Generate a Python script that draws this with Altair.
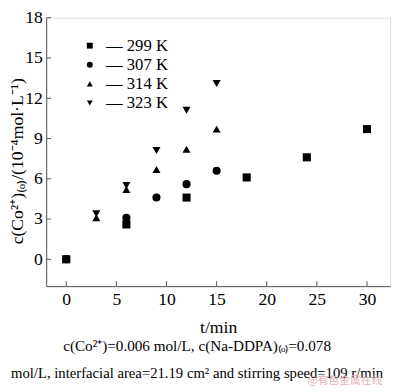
import altair as alt
import pandas as pd

series_names = ["299 K", "307 K", "314 K", "323 K"]
t_299 = [0, 6, 12, 18, 24, 30]
c_299 = [0, 2.6, 4.6, 6.1, 7.6, 9.7]
t_307 = [0, 6, 9, 12, 15]
c_307 = [0, 3.1, 4.6, 5.6, 6.6]
t_314 = [0, 3, 6, 9, 12, 15]
c_314 = [0, 3.1, 5.2, 6.7, 8.2, 9.7]
t_323 = [0, 3, 6, 9, 12, 15]
c_323 = [0, 3.4, 5.5, 8.1, 11.1, 13.1]
x_ticks = [0, 5, 10, 15, 20, 25, 30]
y_ticks = [0, 3, 6, 9, 12, 15, 18]

rows = []
for name, ts, cs in zip(series_names, [t_299, t_307, t_314, t_323], [c_299, c_307, c_314, c_323]):
    for t, c in zip(ts, cs):
        rows.append({"t": t, "c": c, "series": name})
df = pd.DataFrame(rows)

FONT = "'Times New Roman', 'Liberation Serif', serif"
W, H = 351, 274
xs = alt.Scale(domain=[-2, 32.3], nice=False, zero=False)
ys = alt.Scale(domain=[-2, 18], nice=False, zero=False)

points = alt.Chart(df).mark_point(filled=True, opacity=1, color="black", size=68).encode(
    x=alt.X("t:Q", scale=xs,
            axis=alt.Axis(values=x_ticks, title="t/min", ticks=False, labelFontSize=18,
                          labelFont=FONT, titleFont=FONT, titleFontSize=18, titleFontWeight="normal",
                          labelPadding=5, titlePadding=10, grid=False, domainColor="#555",
                          labelColor="black", titleColor="black")),
    y=alt.Y("c:Q", scale=ys,
            axis=alt.Axis(values=y_ticks, title="c(Co²⁺)₍ₒ₎/(10⁻⁴mol·L⁻¹)", ticks=False,
                          labelFontSize=18, labelFont=FONT, titleFont=FONT, titleFontSize=18,
                          titleFontWeight="normal", labelPadding=4, grid=False,
                          titleX=-29, titleY=146, titleBaseline="middle", titleAngle=270,
                          domainColor="#555", labelColor="black", titleColor="black")),
    shape=alt.Shape("series:N",
                    scale=alt.Scale(domain=series_names,
                                    range=["square", "circle", "triangle-up", "triangle-down"]),
                    legend=alt.Legend(title=None, orient="none", legendX=36, legendY=20,
                                      labelFont=FONT, labelFontSize=17, labelColor="black",
                                      labelExpr="'—  ' + datum.label", symbolFillColor="black",
                                      symbolStrokeColor="black", symbolSize=36, rowPadding=1.5,
                                      labelOffset=8)),
)

xt = alt.Chart(pd.DataFrame({"v": x_ticks})).mark_rule(color="#555").encode(
    x=alt.X("v:Q", scale=xs), y=alt.value(H), y2=alt.value(H - 5))
yt = alt.Chart(pd.DataFrame({"v": y_ticks})).mark_rule(color="#555").encode(
    y=alt.Y("v:Q", scale=ys), x=alt.value(0), x2=alt.value(5))

caption1 = ["c(Co²⁺)=0.006 mol/L, c(Na-DDPA)₍ₒ₎=0.078"]
caption2 = ["mol/L, interfacial area=21.19 cm² and stirring speed=109 r/min"]
watermark = ["@有色金属在线"]

cap1 = alt.Chart(pd.DataFrame({"s": caption1})).mark_text(
    font=FONT, fontSize=15.5, color="black", align="center", baseline="middle").encode(
    text="s:N", x=alt.value(154), y=alt.value(335))
cap2 = alt.Chart(pd.DataFrame({"s": caption2})).mark_text(
    font=FONT, fontSize=15, color="black", align="center", baseline="middle").encode(
    text="s:N", x=alt.value(154), y=alt.value(363))
wm = alt.Chart(pd.DataFrame({"s": watermark})).mark_text(
    font="Noto Sans CJK SC", fontSize=11, color="#e6b3b8", align="right", baseline="middle").encode(
    text="s:N", x=alt.value(343), y=alt.value(371))

chart = alt.layer(points, xt, yt, cap1, cap2, wm).properties(
    width=W, height=H, autosize=alt.AutoSizeParams(type="none"),
    padding={"left": 39, "top": 6, "right": 2, "bottom": 98},
).configure_view(stroke="#777", strokeWidth=1).configure(background="white")

chart.save("out.html", embed_options={"renderer": "svg", "actions": False})
